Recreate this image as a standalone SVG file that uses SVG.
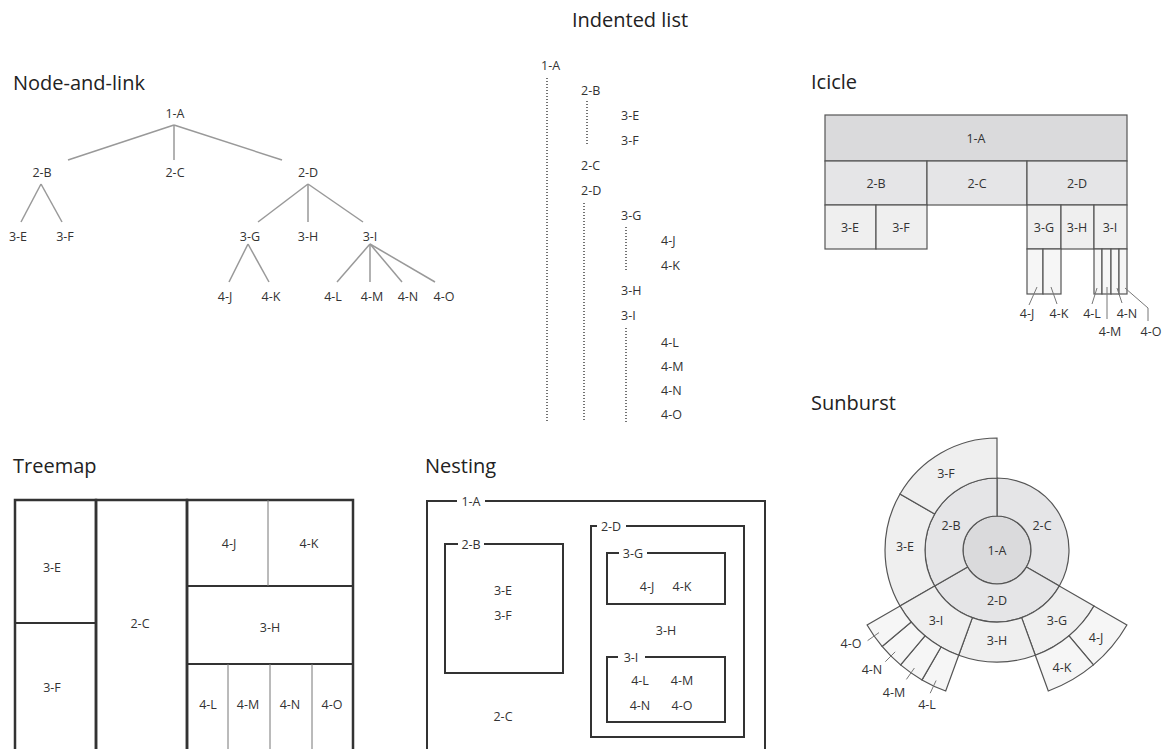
<svg xmlns="http://www.w3.org/2000/svg" width="1165" height="749" viewBox="0 0 1165 749">
<style>
text{font-family:"Open Sans","Liberation Sans",sans-serif;fill:#333;}
.t{font-size:20px;fill:#222;}
.l{font-size:12.5px;text-anchor:middle;dominant-baseline:central;}
.ls{font-size:12.5px;text-anchor:start;dominant-baseline:central;}
.link{stroke:#999;stroke-width:1.5;fill:none;}
.dot{stroke:#444;stroke-width:1.5;stroke-dasharray:1 2;fill:none;}
.ic{stroke:#555;stroke-width:1.2;}
.c1{fill:#dadadc;}
.c2{fill:#e5e5e7;}
.c3{fill:#efefef;}
.c4{fill:#f6f6f6;}
.lead{stroke:#777;stroke-width:1;fill:none;}
.sb{stroke:#555;stroke-width:1.2;}
.tm{fill:none;stroke:#333;}
.ns{fill:none;stroke:#333;stroke-width:2;}
.mask{fill:#fff;}
</style>
<rect width="1165" height="749" fill="#fff"/>

<!-- Titles -->
<text class="t" x="13" y="90">Node-and-link</text>
<text class="t" x="630" y="27" text-anchor="middle">Indented list</text>
<text class="t" x="811" y="89">Icicle</text>
<text class="t" x="811" y="410">Sunburst</text>
<text class="t" x="13" y="473">Treemap</text>
<text class="t" x="425" y="473">Nesting</text>

<!-- Node-and-link -->
<g id="connectors-nodelink">
<line class="link" x1="174" y1="125" x2="68" y2="160"/>
<line class="link" x1="174" y1="125" x2="174" y2="160"/>
<line class="link" x1="174" y1="125" x2="282" y2="160"/>
<line class="link" x1="41" y1="184" x2="21" y2="222"/>
<line class="link" x1="41" y1="184" x2="62" y2="222"/>
<line class="link" x1="308" y1="184" x2="258" y2="222"/>
<line class="link" x1="308" y1="184" x2="308" y2="222"/>
<line class="link" x1="308" y1="184" x2="363" y2="222"/>
<line class="link" x1="248" y1="244" x2="229" y2="282"/>
<line class="link" x1="248" y1="244" x2="269" y2="282"/>
<line class="link" x1="370" y1="244" x2="337" y2="282"/>
<line class="link" x1="370" y1="244" x2="370" y2="282"/>
<line class="link" x1="370" y1="244" x2="402" y2="282"/>
<line class="link" x1="370" y1="244" x2="435" y2="282"/>
</g>
<g id="nl-1A"><text class="l" x="175" y="113">1-A</text></g>
<g id="nl-2B"><text class="l" x="42" y="172">2-B</text></g>
<g id="nl-2C"><text class="l" x="175" y="172">2-C</text></g>
<g id="nl-2D"><text class="l" x="308" y="172">2-D</text></g>
<g id="nl-3E"><text class="l" x="18" y="236">3-E</text></g>
<g id="nl-3F"><text class="l" x="65" y="236">3-F</text></g>
<g id="nl-3G"><text class="l" x="250" y="236">3-G</text></g>
<g id="nl-3H"><text class="l" x="308" y="236">3-H</text></g>
<g id="nl-3I"><text class="l" x="370" y="236">3-I</text></g>
<g id="nl-4J"><text class="l" x="225" y="296">4-J</text></g>
<g id="nl-4K"><text class="l" x="271" y="296">4-K</text></g>
<g id="nl-4L"><text class="l" x="333" y="296">4-L</text></g>
<g id="nl-4M"><text class="l" x="372" y="296">4-M</text></g>
<g id="nl-4N"><text class="l" x="408" y="296">4-N</text></g>
<g id="nl-4O"><text class="l" x="444" y="296">4-O</text></g>

<!-- Indented list -->
<g id="connectors-indented">
<line class="dot" x1="547" y1="78" x2="547" y2="422"/>
<line class="dot" x1="587" y1="101" x2="587" y2="144"/>
<line class="dot" x1="584" y1="203" x2="584" y2="422"/>
<line class="dot" x1="626" y1="227" x2="626" y2="270"/>
<line class="dot" x1="626" y1="328" x2="626" y2="422"/>
</g>
<g id="il-1A"><text class="ls" x="541" y="65">1-A</text></g>
<g id="il-2B"><text class="ls" x="581" y="90">2-B</text></g>
<g id="il-3E"><text class="ls" x="621" y="115">3-E</text></g>
<g id="il-3F"><text class="ls" x="621" y="140">3-F</text></g>
<g id="il-2C"><text class="ls" x="581" y="165">2-C</text></g>
<g id="il-2D"><text class="ls" x="581" y="190">2-D</text></g>
<g id="il-3G"><text class="ls" x="621" y="215">3-G</text></g>
<g id="il-4J"><text class="ls" x="661" y="240">4-J</text></g>
<g id="il-4K"><text class="ls" x="661" y="265">4-K</text></g>
<g id="il-3H"><text class="ls" x="621" y="290">3-H</text></g>
<g id="il-3I"><text class="ls" x="621" y="315">3-I</text></g>
<g id="il-4L"><text class="ls" x="661" y="342">4-L</text></g>
<g id="il-4M"><text class="ls" x="661" y="366">4-M</text></g>
<g id="il-4N"><text class="ls" x="661" y="390">4-N</text></g>
<g id="il-4O"><text class="ls" x="661" y="414">4-O</text></g>

<!-- Icicle -->
<g id="ic-1A"><rect class="ic c1" x="825" y="115" width="302" height="46"/><text class="l" x="976" y="138">1-A</text></g>
<g id="ic-2B"><rect class="ic c2" x="825" y="161" width="102" height="44"/><text class="l" x="876" y="183">2-B</text></g>
<g id="ic-2C"><rect class="ic c2" x="927" y="161" width="100" height="44"/><text class="l" x="977" y="183">2-C</text></g>
<g id="ic-2D"><rect class="ic c2" x="1027" y="161" width="100" height="44"/><text class="l" x="1077" y="183">2-D</text></g>
<g id="ic-3E"><rect class="ic c3" x="825" y="205" width="51" height="44"/><text class="l" x="850" y="227">3-E</text></g>
<g id="ic-3F"><rect class="ic c3" x="876" y="205" width="51" height="44"/><text class="l" x="901" y="227">3-F</text></g>
<g id="ic-3G"><rect class="ic c3" x="1027" y="205" width="34" height="44"/><text class="l" x="1044" y="227">3-G</text></g>
<g id="ic-3H"><rect class="ic c3" x="1061" y="205" width="33" height="44"/><text class="l" x="1077" y="227">3-H</text></g>
<g id="ic-3I"><rect class="ic c3" x="1094" y="205" width="33" height="44"/><text class="l" x="1110" y="227">3-I</text></g>
<g id="ic-4J"><rect class="ic c4" x="1027" y="249" width="16" height="45"/><text class="l" x="1027" y="313">4-J</text></g>
<g id="ic-4K"><rect class="ic c4" x="1043" y="249" width="18" height="45"/><text class="l" x="1059" y="313">4-K</text></g>
<g id="ic-4L"><rect class="ic c4" x="1094" y="249" width="8" height="45"/><text class="l" x="1092" y="313">4-L</text></g>
<g id="ic-4M"><rect class="ic c4" x="1102" y="249" width="9" height="45"/><text class="l" x="1110" y="331">4-M</text></g>
<g id="ic-4N"><rect class="ic c4" x="1111" y="249" width="8" height="45"/><text class="l" x="1127" y="313">4-N</text></g>
<g id="ic-4O"><rect class="ic c4" x="1119" y="249" width="8" height="45"/><text class="l" x="1151" y="331">4-O</text></g>
<g id="connectors-icicle">
<line class="lead" x1="1037" y1="287" x2="1029" y2="305"/>
<line class="lead" x1="1051" y1="287" x2="1057" y2="304"/>
<line class="lead" x1="1097" y1="288" x2="1092" y2="304"/>
<line class="lead" x1="1107" y1="287" x2="1107" y2="319"/>
<line class="lead" x1="1117" y1="288" x2="1122" y2="303"/>
<polyline class="lead" points="1125,288 1148,308 1148,321"/>
</g>

<!-- Sunburst -->
<g id="sb-1A"><circle class="sb c1" cx="997" cy="550" r="34"/><text class="l" x="997" y="550">1-A</text></g>
<g id="sb-2C"><path class="sb c2" d="M997,478 A72,72 0 0 1 1059.35,586 L1026.44,567 A34,34 0 0 0 997,516 Z"/><text class="l" x="1042" y="525">2-C</text></g>
<g id="sb-2D"><path class="sb c2" d="M1059.35,586 A72,72 0 0 1 934.65,586 L967.56,567 A34,34 0 0 0 1026.44,567 Z"/><text class="l" x="997" y="600">2-D</text></g>
<g id="sb-2B"><path class="sb c2" d="M934.65,586 A72,72 0 0 1 997,478 L997,516 A34,34 0 0 0 967.56,567 Z"/><text class="l" x="951" y="525">2-B</text></g>
<g id="sb-3E"><path class="sb c3" d="M900.01,606 A112,112 0 0 1 900.01,494 L934.65,514 A72,72 0 0 0 934.65,586 Z"/><text class="l" x="905" y="546">3-E</text></g>
<g id="sb-3F"><path class="sb c3" d="M900.01,494 A112,112 0 0 1 997,438 L997,478 A72,72 0 0 0 934.65,514 Z"/><text class="l" x="946" y="473">3-F</text></g>
<g id="sb-3G"><path class="sb c3" d="M1093.99,606 A112,112 0 0 1 1035.3,655.25 L1021.62,617.66 A72,72 0 0 0 1059.35,586 Z"/><text class="l" x="1057" y="620">3-G</text></g>
<g id="sb-3H"><path class="sb c3" d="M1035.3,655.25 A112,112 0 0 1 958.7,655.25 L972.38,617.66 A72,72 0 0 0 1021.62,617.66 Z"/><text class="l" x="997" y="640">3-H</text></g>
<g id="sb-3I"><path class="sb c3" d="M958.7,655.25 A112,112 0 0 1 900.01,606 L934.65,586 A72,72 0 0 0 972.38,617.66 Z"/><text class="l" x="936" y="620">3-I</text></g>
<g id="sb-4J"><path class="sb c4" d="M1126.9,625 A150,150 0 0 1 1093.42,664.9 L1069,635.79 A112,112 0 0 0 1093.99,606 Z"/><text class="l" x="1096" y="637">4-J</text></g>
<g id="sb-4K"><path class="sb c4" d="M1093.42,664.9 A150,150 0 0 1 1048.3,690.96 L1035.3,655.25 A112,112 0 0 0 1069,635.79 Z"/><text class="l" x="1062" y="667">4-K</text></g>
<g id="sb-4L"><path class="sb c4" d="M945.7,690.96 A150,150 0 0 1 922,679.9 L941,646.99 A112,112 0 0 0 958.7,655.25 Z"/><text class="l" x="927" y="704">4-L</text></g>
<g id="sb-4M"><path class="sb c4" d="M922,679.9 A150,150 0 0 1 900.58,664.9 L925,635.79 A112,112 0 0 0 941,646.99 Z"/><text class="l" x="894" y="692">4-M</text></g>
<g id="sb-4N"><path class="sb c4" d="M900.58,664.9 A150,150 0 0 1 882.1,646.42 L911.21,622 A112,112 0 0 0 925,635.79 Z"/><text class="l" x="872" y="669">4-N</text></g>
<g id="sb-4O"><path class="sb c4" d="M882.1,646.42 A150,150 0 0 1 867.1,625 L900.01,606 A112,112 0 0 0 911.21,622 Z"/><text class="l" x="851" y="643">4-O</text></g>
<g id="connectors-sunburst">
<line class="lead" x1="936.1" y1="680.5" x2="930.2" y2="693.2"/>
<line class="lead" x1="914.4" y1="668" x2="906.4" y2="679.4"/>
<line class="lead" x1="895.2" y1="651.8" x2="885.3" y2="661.7"/>
<line class="lead" x1="879" y1="632.6" x2="867.6" y2="640.6"/>
</g>

<!-- Treemap -->
<g id="tm-2D">
<rect class="tm" x="187" y="500" width="166" height="270" stroke-width="2.5"/>
<line class="tm" x1="187" y1="586" x2="353" y2="586" stroke-width="1.8"/>
<line class="tm" x1="187" y1="664" x2="353" y2="664" stroke-width="1.8"/>
</g>
<g id="tm-4J"><text class="l" x="229" y="543">4-J</text></g>
<g id="tm-4K"><line x1="268" y1="500" x2="268" y2="586" stroke="#777" stroke-width="1"/><text class="l" x="309" y="543">4-K</text></g>
<g id="tm-3H"><text class="l" x="270" y="627">3-H</text></g>
<g id="tm-4L"><text class="l" x="208" y="704">4-L</text></g>
<g id="tm-4M"><line x1="228" y1="664" x2="228" y2="760" stroke="#777" stroke-width="1"/><text class="l" x="248" y="704">4-M</text></g>
<g id="tm-4N"><line x1="270" y1="664" x2="270" y2="760" stroke="#777" stroke-width="1"/><text class="l" x="290" y="704">4-N</text></g>
<g id="tm-4O"><line x1="312" y1="664" x2="312" y2="760" stroke="#777" stroke-width="1"/><text class="l" x="332" y="704">4-O</text></g>
<g id="tm-2B">
<rect class="tm" x="15" y="500" width="81" height="270" stroke-width="2.5"/>
<line class="tm" x1="15" y1="623" x2="96" y2="623" stroke-width="1.8"/>
</g>
<g id="tm-3E"><text class="l" x="52" y="567">3-E</text></g>
<g id="tm-3F"><text class="l" x="52" y="687">3-F</text></g>
<g id="tm-2C"><rect class="tm" x="96" y="500" width="91" height="270" stroke-width="2.5"/><text class="l" x="140" y="623">2-C</text></g>

<!-- Nesting -->
<g id="ns-1A"><rect class="ns" x="427" y="501" width="338" height="270"/><rect class="mask" x="457" y="494" width="28" height="14"/><text class="l" x="471" y="501">1-A</text></g>
<g id="ns-2B"><rect class="ns" x="445" y="544" width="118" height="129"/><rect class="mask" x="458" y="537" width="26" height="14"/><text class="l" x="471" y="544">2-B</text></g>
<g id="ns-3E"><text class="l" x="503" y="590">3-E</text></g>
<g id="ns-3F"><text class="l" x="503" y="615">3-F</text></g>
<g id="ns-2C"><text class="l" x="503" y="716">2-C</text></g>
<g id="ns-2D"><rect class="ns" x="591" y="526" width="153" height="211"/><rect class="mask" x="597" y="519" width="29" height="14"/><text class="l" x="611" y="526">2-D</text></g>
<g id="ns-3G"><rect class="ns" x="607" y="553" width="118" height="51"/><rect class="mask" x="619" y="546" width="28" height="14"/><text class="l" x="633" y="553">3-G</text></g>
<g id="ns-4J"><text class="l" x="647" y="586">4-J</text></g>
<g id="ns-4K"><text class="l" x="682" y="586">4-K</text></g>
<g id="ns-3H"><text class="l" x="666" y="630">3-H</text></g>
<g id="ns-3I"><rect class="ns" x="607" y="657" width="118" height="65"/><rect class="mask" x="618" y="650" width="27" height="14"/><text class="l" x="631" y="657">3-I</text></g>
<g id="ns-4L"><text class="l" x="640" y="680">4-L</text></g>
<g id="ns-4M"><text class="l" x="682" y="680">4-M</text></g>
<g id="ns-4N"><text class="l" x="640" y="705">4-N</text></g>
<g id="ns-4O"><text class="l" x="682" y="705">4-O</text></g>
</svg>
